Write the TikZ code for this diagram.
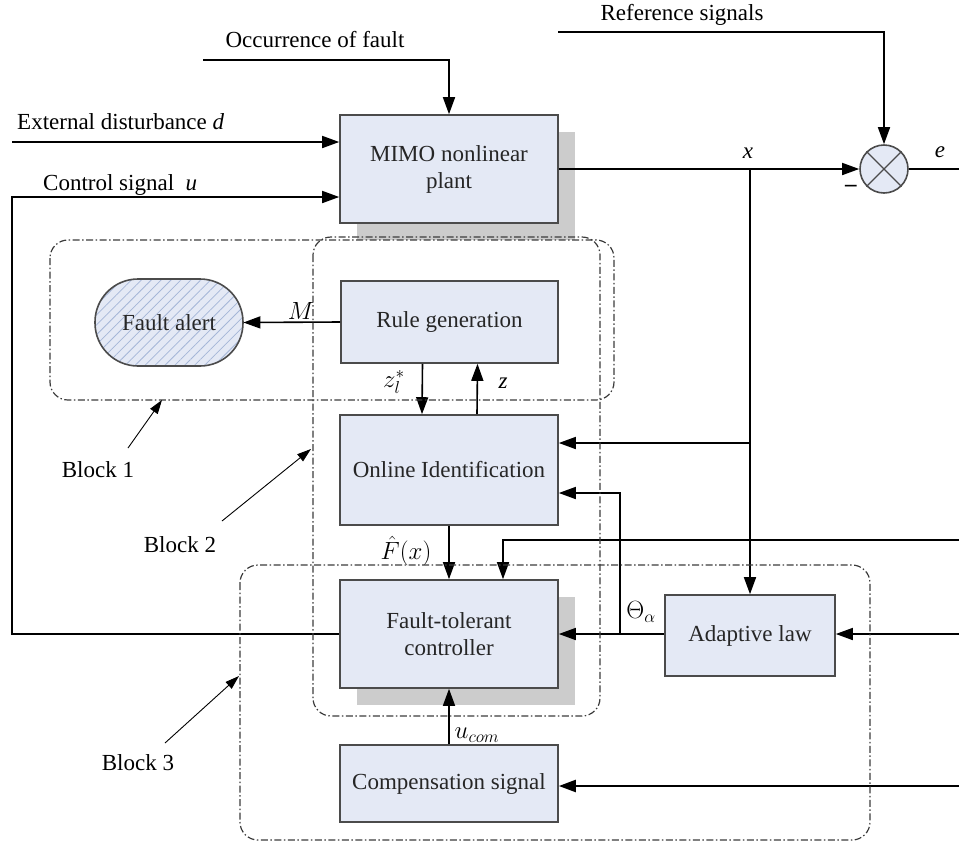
\documentclass[tikz,border=0pt]{standalone}
\usepackage{fontspec}
\setmainfont{Liberation Serif}
\usetikzlibrary{arrows.meta, calc, patterns.meta, shadows}

\definecolor{boxfill}{RGB}{228,233,245}
\definecolor{boxline}{RGB}{75,75,75}
\definecolor{shadowgray}{RGB}{204,204,204}
\definecolor{hatch}{RGB}{165,182,215}
\definecolor{grpline}{RGB}{60,60,60}

\begin{document}
\begin{tikzpicture}[
  x=1pt, y=-1pt,
  font=\fontsize{23}{27}\selectfont,
  blk/.style={draw=boxline, fill=boxfill, line width=1.6pt, inner sep=2pt,
              align=center, text=black!85},
  shad/.style={general shadow={fill=shadowgray, shadow xshift=17pt, shadow yshift=-17pt}},
  grp/.style={draw=grpline, line width=1.2pt, rounded corners=18pt,
              dash pattern=on 7pt off 2.5pt on 1.5pt off 2.5pt},
  arr/.style={-{Triangle[length=17pt, width=12pt]}, line width=1.6pt},
  ptr/.style={-{Triangle[length=14pt, width=9pt]}, line width=0.9pt},
  lab/.style={inner sep=1pt},
]
\useasboundingbox (0,0) rectangle (959,847);

%% ---- blocks ----
\node[blk, shad, minimum width=218pt, minimum height=108pt] (plant) at (449,169)
  {MIMO nonlinear\\plant};
\node[blk, minimum width=217pt, minimum height=82pt] (rule) at (449.5,322) {Rule generation};
\node[blk, minimum width=148pt, minimum height=87pt, rounded corners=43pt,
      preaction={fill=boxfill}, pattern={Lines[angle=45, distance=7pt, line width=0.8pt]},
      pattern color=hatch] (alert) at (169,322.5) {Fault alert};
\node[blk, minimum width=218pt, minimum height=110pt] (ident) at (449,470) {Online Identification};
\node[blk, shad, minimum width=218pt, minimum height=108pt] (ftc) at (449,634)
  {Fault-tolerant\\controller};
\node[blk, minimum width=170pt, minimum height=81pt] (adapt) at (750,635.5) {Adaptive law};
\node[blk, minimum width=218pt, minimum height=77pt] (comp) at (449,783.5) {Compensation signal};
\node[draw=boxline, fill=boxfill, circle, minimum size=48pt, line width=1.6pt] (sum) at (884,169) {};
\draw[boxline, line width=1.2pt] (sum.north west) -- (sum.south east)
  (sum.north east) -- (sum.south west);

%% ---- free ends and junctions ----
\coordinate (fo)   at (203,60);
\coordinate (din)  at (12,142);
\coordinate (ul)   at (12,197);
\coordinate (rs)   at (558,32);
\coordinate (eout) at (959,169);
\coordinate (xj)   at (750,169);
\coordinate (xb)   at (750,443);
\coordinate (tb)   at (620,634);
\coordinate (tb2)  at (620,493);
\coordinate (fin)  at (959,540);
\coordinate (ain)  at (959,634);
\coordinate (cin)  at (959,786);

%% ---- texts ----
\node[lab] (tfault) at (315,40) {Occurrence of fault};
\node[lab, anchor=west] (tdist) at (16,122) {External disturbance \textit{d}};
\node[lab, anchor=west] (tctrl) at (42,185) {Control signal \ \textit{u}};
\node[lab] (tref) at (682,15) {Reference signals};
\node[lab] (tx) at (748,153) {\textit{x}};
\node[lab] (te) at (940,152) {\textit{e}};
\node[lab] (tminus) at (851,188) {\textbf{--}};
\node[lab] (tm) at (301,311) {$M$};
\node[lab] (tzl) at (394,382) {$z_l^{*}$};
\node[lab] (tz) at (503,383) {\textit{z}};
\node[lab] (tf) at (406,551) {$\hat{F}(x)$};
\node[lab] (tth) at (641,612) {$\Theta_{\alpha}$};
\node[lab] (tu) at (477,735) {$u_{com}$};

%% ---- connectors ----
\draw[arr] (fo) -| (plant.north);
\draw[arr] (din) -- (din -| plant.west);
\draw[arr] (ftc.west) -| (ul) -- (ul -| plant.west);
\draw[arr] (rs) -| (sum.north);
\draw[arr] (plant.east) -- (sum.west);
\draw[line width=1.6pt] (sum.east) -- (eout);
\draw[arr] (xj) -- (adapt.north);
\draw[arr] (xb) -- (xb -| ident.east);
\draw[arr] (rule.west) -- (alert.east);
\draw[arr] ([xshift=-27pt]rule.south) -- ([xshift=-27pt]ident.north);
\draw[arr] ([xshift=28pt]ident.north) -- ([xshift=28pt]rule.south);
\draw[arr] (ident.south) -- (ftc.north);
\draw[arr] (fin) -| ([xshift=54pt]ftc.north);
\draw[arr] (adapt.west |- tb) -- (tb -| ftc.east);
\draw[arr] (tb) -- (tb2) -- (tb2 -| ident.east);
\draw[arr] (ain) -- (ain -| adapt.east);
\draw[arr] (comp.north) -- (ftc.south);
\draw[arr, line width=2.2pt] (cin) -- (cin -| comp.east);

%% ---- dash-dot groups ----
\draw[grp] (50,240) rectangle (614,400);
\draw[grp] (313,237) rectangle (600,716);
\draw[grp] (240,565) rectangle (870,840);

%% ---- block pointers ----
\node[lab] (b1) at (98,470) {Block 1};
\node[lab] (b2) at (180,545) {Block 2};
\node[lab] (b3) at (138,763) {Block 3};
\coordinate (p1) at (162,400);
\coordinate (p2) at (311,449);
\coordinate (p3) at (239,676);
\draw[ptr] (128,448) -- (p1);
\draw[ptr] (222,521) -- (p2);
\draw[ptr] (165,743) -- (p3);
\end{tikzpicture}
\end{document}
